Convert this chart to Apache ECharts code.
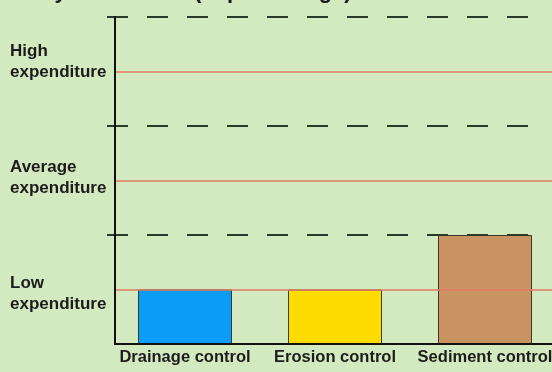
<!DOCTYPE html>
<html><head><meta charset="utf-8">
<script src="https://cdn.jsdelivr.net/npm/echarts@6/dist/echarts.min.js"></script>
<style>html,body{margin:0;padding:0;background:#d3eac0;}#c{width:552px;height:372px;}</style>
</head><body><div id="c"></div>
<script>
const titleText = 'Early work costs (in percentage)';
const categories = ['Drainage control', 'Erosion control', 'Sediment control'];
const values = [1, 1, 2];
const barColors = ['#0a9cf7', '#fedc00', '#c99462'];
const levelValues = [1, 3, 5];
const levelLabels = ['Low\nexpenditure', 'Average\nexpenditure', 'High\nexpenditure'];
const dashValues = [2, 4, 6];
const yMin = 0, yMax = 6;

const FONT = "'Liberation Sans', Arial, sans-serif";
const chart = echarts.init(document.getElementById('c'), null, {renderer: 'canvas'});
chart.setOption({
  animation: false,
  backgroundColor: '#d3eac0',
  title: {text: titleText, left: 8, top: -24, textStyle: {fontSize: 22, fontWeight: 'bold', color: '#1a1a1a', fontFamily: FONT}},
  grid: [
    {left: 110, width: 450, top: 17, bottom: 28, outerBoundsMode: 'none', containLabel: false},
    {left: 107, width: 424, top: 17, bottom: 28, outerBoundsMode: 'none', containLabel: false},
    {left: 115, right: 0, top: 17, bottom: 28, outerBoundsMode: 'none', containLabel: false}
  ],
  xAxis: [
    {gridIndex: 0, type: 'category', data: categories, axisLine: {show: false}, axisTick: {show: false},
     axisLabel: {margin: 5, interval: 0, fontSize: 16.5, fontWeight: 'bold', color: '#1c1c1c', fontFamily: FONT}},
    {gridIndex: 1, type: 'value', show: false, min: 0, max: 1},
    {gridIndex: 2, type: 'value', min: 0, max: 1, z: 5,
     axisLine: {show: true, onZero: false, lineStyle: {color: '#111', width: 2}},
     axisTick: {show: false}, axisLabel: {show: false}, splitLine: {show: false}}
  ],
  yAxis: [
    {gridIndex: 0, type: 'value', min: yMin, max: yMax, show: false},
    {gridIndex: 1, type: 'value', min: yMin, max: yMax, show: false},
    {gridIndex: 2, type: 'value', min: yMin, max: yMax, z: 5, position: 'left',
     axisLine: {show: true, onZero: false, lineStyle: {color: '#111', width: 2}},
     axisTick: {show: false}, axisLabel: {show: false}, splitLine: {show: false}},
    {gridIndex: 2, type: 'value', min: 0.141, max: 5.779, position: 'left',
     axisLine: {show: false}, axisTick: {show: false}, splitLine: {show: false},
     axisLabel: {customValues: levelValues, formatter: v => levelLabels[levelValues.indexOf(v)] || '',
       align: 'left', margin: 105, lineHeight: 21, fontSize: 17, fontWeight: 'bold', color: '#1c1c1c', fontFamily: FONT}}
  ],
  series: [
    {type: 'line', xAxisIndex: 2, yAxisIndex: 2, data: [], z: 1,
     markLine: {silent: true, symbol: 'none', label: {show: false},
       lineStyle: {color: '#e07a66', width: 1.5, type: 'solid'},
       data: levelValues.map(v => ({yAxis: v}))}},
    {type: 'bar', xAxisIndex: 0, yAxisIndex: 0, barWidth: 94, z: 2,
     itemStyle: {borderColor: '#3b3a2a', borderWidth: 1},
     data: values.map((v, i) => ({value: v, itemStyle: {color: barColors[i]}}))},
    {type: 'line', xAxisIndex: 1, yAxisIndex: 1, data: [], z: 3,
     markLine: {silent: true, symbol: 'none', label: {show: false},
       lineStyle: {color: '#2c3a2c', width: 2, type: [21, 19]},
       data: dashValues.map(v => ({yAxis: v}))}}
  ]
});
</script>
</body></html>
